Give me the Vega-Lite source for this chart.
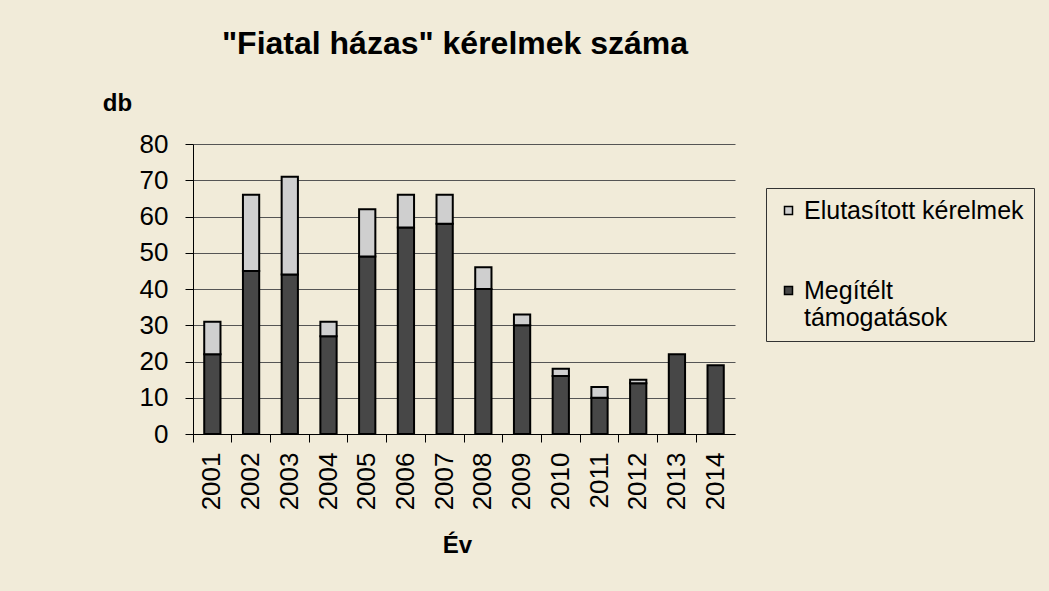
{
  "$schema": "https://vega.github.io/schema/vega-lite/v6.json",
  "width": 542,
  "height": 290,
  "autosize": {"type": "none"},
  "padding": {"left": 193, "top": 144, "right": 314, "bottom": 157},
  "background": "#f1ebd9",
  "config": {"font": "Liberation Sans", "view": {"stroke": null}},
  "title": {
    "text": "\"Fiatal házas\" kérelmek száma",
    "fontSize": 32,
    "fontWeight": "bold",
    "color": "#000000",
    "anchor": "middle",
    "frame": "group",
    "dx": -9,
    "offset": 30
  },
  "data": {
    "values": [
      {"ev": "2001", "tipus": "Megítélt támogatások", "db": 22},
      {"ev": "2001", "tipus": "Elutasított kérelmek", "db": 9},
      {"ev": "2002", "tipus": "Megítélt támogatások", "db": 45},
      {"ev": "2002", "tipus": "Elutasított kérelmek", "db": 21},
      {"ev": "2003", "tipus": "Megítélt támogatások", "db": 44},
      {"ev": "2003", "tipus": "Elutasított kérelmek", "db": 27},
      {"ev": "2004", "tipus": "Megítélt támogatások", "db": 27},
      {"ev": "2004", "tipus": "Elutasított kérelmek", "db": 4},
      {"ev": "2005", "tipus": "Megítélt támogatások", "db": 49},
      {"ev": "2005", "tipus": "Elutasított kérelmek", "db": 13},
      {"ev": "2006", "tipus": "Megítélt támogatások", "db": 57},
      {"ev": "2006", "tipus": "Elutasított kérelmek", "db": 9},
      {"ev": "2007", "tipus": "Megítélt támogatások", "db": 58},
      {"ev": "2007", "tipus": "Elutasított kérelmek", "db": 8},
      {"ev": "2008", "tipus": "Megítélt támogatások", "db": 40},
      {"ev": "2008", "tipus": "Elutasított kérelmek", "db": 6},
      {"ev": "2009", "tipus": "Megítélt támogatások", "db": 30},
      {"ev": "2009", "tipus": "Elutasított kérelmek", "db": 3},
      {"ev": "2010", "tipus": "Megítélt támogatások", "db": 16},
      {"ev": "2010", "tipus": "Elutasított kérelmek", "db": 2},
      {"ev": "2011", "tipus": "Megítélt támogatások", "db": 10},
      {"ev": "2011", "tipus": "Elutasított kérelmek", "db": 3},
      {"ev": "2012", "tipus": "Megítélt támogatások", "db": 14},
      {"ev": "2012", "tipus": "Elutasított kérelmek", "db": 1},
      {"ev": "2013", "tipus": "Megítélt támogatások", "db": 22},
      {"ev": "2014", "tipus": "Megítélt támogatások", "db": 19}
    ]
  },
  "mark": {"type": "bar", "width": {"band": 0.42}, "stroke": "#000000", "strokeWidth": 2},
  "encoding": {
    "x": {
      "field": "ev",
      "type": "ordinal",
      "scale": {"paddingInner": 0, "paddingOuter": 0},
      "axis": {
        "title": "Év",
        "titleFontSize": 24,
        "titleFontWeight": "bold",
        "titleColor": "#000000",
        "titleX": 264,
        "titleY": 118,
        "titleAlign": "center",
        "titleBaseline": "alphabetic",
        "labelAngle": -90,
        "labelFontSize": 26,
        "labelColor": "#000000",
        "labelPadding": 10,
        "tickSize": 8,
        "tickColor": "#000000",
        "bandPosition": 0,
        "domainColor": "#000000",
        "grid": false
      }
    },
    "y": {
      "field": "db",
      "type": "quantitative",
      "aggregate": "sum",
      "stack": "zero",
      "scale": {"domain": [0, 80], "nice": false},
      "axis": {
        "title": "db",
        "titleAngle": 0,
        "titleX": -76,
        "titleY": -34,
        "titleAlign": "center",
        "titleBaseline": "alphabetic",
        "titleFontSize": 24,
        "titleFontWeight": "bold",
        "titleColor": "#000000",
        "values": [0, 10, 20, 30, 40, 50, 60, 70, 80],
        "labelFontSize": 26,
        "labelColor": "#000000",
        "labelPadding": 17,
        "tickSize": 8,
        "tickColor": "#000000",
        "domainColor": "#000000",
        "gridColor": "#555555",
        "gridWidth": 1
      }
    },
    "color": {
      "field": "tipus",
      "type": "nominal",
      "scale": {
        "domain": ["Elutasított kérelmek", "Megítélt támogatások"],
        "range": ["#cfcfcf", "#474747"]
      },
      "legend": {
        "orient": "none",
        "legendX": 573,
        "legendY": 44,
        "title": null,
        "strokeColor": "#333333",
        "padding": 10,
        "labelFontSize": 25,
        "labelColor": "#000000",
        "labelLimit": 400,
        "labelOffset": 3,
        "labelLineHeight": 30,
        "symbolType": "square",
        "symbolSize": 64,
        "symbolStrokeColor": "#000000",
        "symbolStrokeWidth": 1.5,
        "symbolOpacity": 1,
        "rowPadding": 54,
        "labelExpr": "datum.label == 'Megítélt támogatások' ? ['Megítélt', 'támogatások'] : datum.label"
      }
    },
    "order": {"field": "tipus", "sort": "descending"}
  }
}
